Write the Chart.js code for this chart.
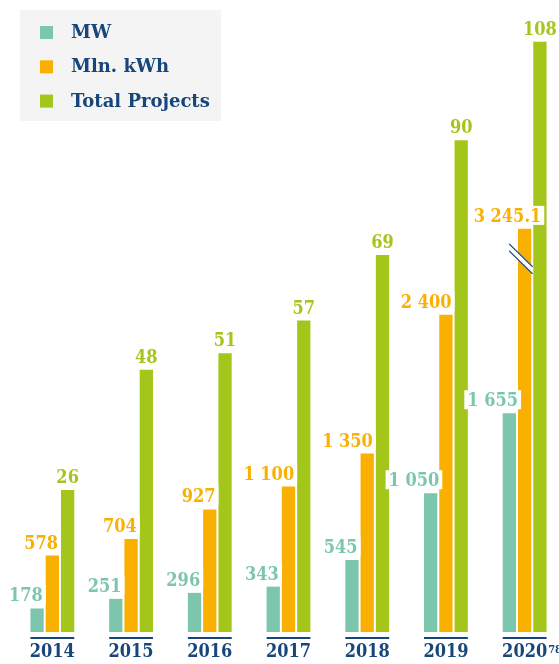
<!DOCTYPE html>
<html>
<head>
<meta charset="utf-8">
<script src="https://cdn.jsdelivr.net/npm/chart.js@4"></script>
<style>
    html, body { margin: 0; padding: 0; background: #fff; overflow: hidden; }
    #wrap { position: relative; width: 566px; height: 664px; }
</style>
</head>
<body>
<div id="wrap"><canvas id="barChart"></canvas></div>
<script>
const anos = ['2014', '2015', '2016', '2017', '2018', '2019', '2020'];
const notaAno = ['', '', '', '', '', '', '78']; // nota de rodapé em sobrescrito
const mw = [178, 251, 296, 343, 545, 1050, 1655];
const mlnKwh = [578, 704, 927, 1100, 1350, 2400, 3245.1];
const projetos = [26, 48, 51, 57, 69, 90, 108];
const legendas = ['MW', 'Mln. kWh', 'Total Projects'];

const corteKwh = 3050; // a barra de 3 245.1 é cortada (eixo quebrado)

const cores = ['#7dc6ae', '#f9b000', '#a4c61a'];
const azul = '#17467a';
const fonte = "'DejaVu Serif Condensed', 'DejaVu Serif', serif";

function formatar(v) {
    const partes = String(v).split('.');
    partes[0] = partes[0].replace(/\B(?=(\d{3})+(?!\d))/g, ' ');
    return partes.join('.');
}

const rotulosPlugin = {
    id: 'rotulos',
    afterDatasetsDraw(chart) {
        const ctx = chart.ctx;
        ctx.save();

        // sublinhado azul por ano
        const m0 = chart.getDatasetMeta(0).data;
        const m2 = chart.getDatasetMeta(2).data;
        const yLinha = chart.chartArea.bottom + 6;
        ctx.fillStyle = azul;
        m0.forEach((b, i) => {
            const esq = b.x - b.width / 2;
            const dir = m2[i].x + m2[i].width / 2;
            ctx.fillRect(esq, yLinha - 1, dir - esq, 2);
        });

        // sobrescrito depois do ano
        ctx.font = `bold 18px ${fonte}`;
        const xScale = chart.scales.x;
        anos.forEach((ano, i) => {
            if (!notaAno[i]) return;
            const w = ctx.measureText(ano).width;
            const x = xScale.getPixelForValue(i) + w / 2 + 1;
            ctx.save();
            ctx.font = `bold 11px ${fonte}`;
            ctx.fillStyle = azul;
            ctx.textAlign = 'left';
            ctx.textBaseline = 'alphabetic';
            ctx.fillText(notaAno[i], x, chart.chartArea.bottom + 21);
            ctx.restore();
        });

        // quebra na barra cortada
        const metaK = chart.getDatasetMeta(1).data;
        mlnKwh.forEach((v, i) => {
            if (v <= corteKwh) return;
            const b = metaK[i];
            const x1 = b.x - 15.5, x2 = b.x + 8;
            const ya = b.y + 15, yb = b.y + 38;
            ctx.fillStyle = '#fff';
            ctx.beginPath();
            ctx.moveTo(x1, ya); ctx.lineTo(x2, yb);
            ctx.lineTo(x2, yb + 7); ctx.lineTo(x1, ya + 7);
            ctx.closePath();
            ctx.fill();
            ctx.strokeStyle = azul;
            ctx.lineWidth = 1.3;
            ctx.beginPath();
            ctx.moveTo(x1, ya); ctx.lineTo(x2, yb);
            ctx.moveTo(x1, ya + 7); ctx.lineTo(x2, yb + 7);
            ctx.stroke();
        });

        // valores
        ctx.font = `bold 18px ${fonte}`;
        ctx.textBaseline = 'alphabetic';
        const series = [mw, mlnKwh, projetos];
        series.forEach((serie, d) => {
            chart.getDatasetMeta(d).data.forEach((b, i) => {
                const txt = formatar(serie[i]);
                const w = ctx.measureText(txt).width;
                let dir;
                if (d === 2) {
                    dir = b.x + w / 2;
                } else {
                    dir = b.x + b.width / 2 - 1;
                    if (d === 0 && w > 40) dir += 3;
                    if (d === 1 && serie[i] > corteKwh) dir += 11;
                }
                const base = b.y - 7;
                ctx.fillStyle = '#fff';
                ctx.fillRect(dir - w - 3, base - 16, w + 6, 19);
                ctx.fillStyle = cores[d];
                ctx.textAlign = 'right';
                ctx.fillText(txt, dir, base);
            });
        });
        ctx.restore();
    }
};

const legendaPlugin = {
    id: 'legendaBox',
    afterDraw(chart) {
        const ctx = chart.ctx;
        ctx.save();
        ctx.fillStyle = '#f4f4f4';
        ctx.fillRect(20, 10, 201, 111);
        ctx.font = "bold 18px 'DejaVu Serif', serif";
        ctx.textBaseline = 'middle';
        ctx.textAlign = 'left';
        legendas.forEach((txt, i) => {
            const yc = 32.5 + i * 34.3;
            ctx.fillStyle = cores[i];
            ctx.fillRect(40, yc - 6.5, 13, 13);
            ctx.fillStyle = azul;
            ctx.fillText(txt, 71, yc + 1);
        });
        ctx.restore();
    }
};

const config = {
    type: 'bar',
    data: {
        labels: anos,
        datasets: [
            { label: legendas[0], data: mw, backgroundColor: cores[0], yAxisID: 'y' },
            { label: legendas[1], data: mlnKwh.map(v => Math.min(v, corteKwh)), backgroundColor: cores[1], yAxisID: 'y' },
            { label: legendas[2], data: projetos, backgroundColor: cores[2], yAxisID: 'y2' }
        ]
    },
    options: {
        responsive: true,
        maintainAspectRatio: false,
        animation: false,
        categoryPercentage: 0.582,
        barPercentage: 0.87,
        layout: { padding: { top: 20, left: 13, right: 2, bottom: 0 } },
        scales: {
            x: {
                grid: { display: false, drawTicks: false },
                border: { display: false },
                ticks: {
                    color: azul,
                    padding: 10,
                    font: { family: fonte, size: 18, weight: 'bold' },
                    maxRotation: 0,
                    autoSkip: false
                },
                afterFit: (scale) => { scale.height = 32; }
            },
            y: { display: false, min: 0, max: 4630 },
            y2: { display: false, min: 0, max: 112 }
        },
        plugins: {
            legend: { display: false },
            tooltip: { enabled: false }
        }
    },
    plugins: [rotulosPlugin, legendaPlugin]
};

new Chart(document.getElementById('barChart'), config);
</script>
</body>
</html>
